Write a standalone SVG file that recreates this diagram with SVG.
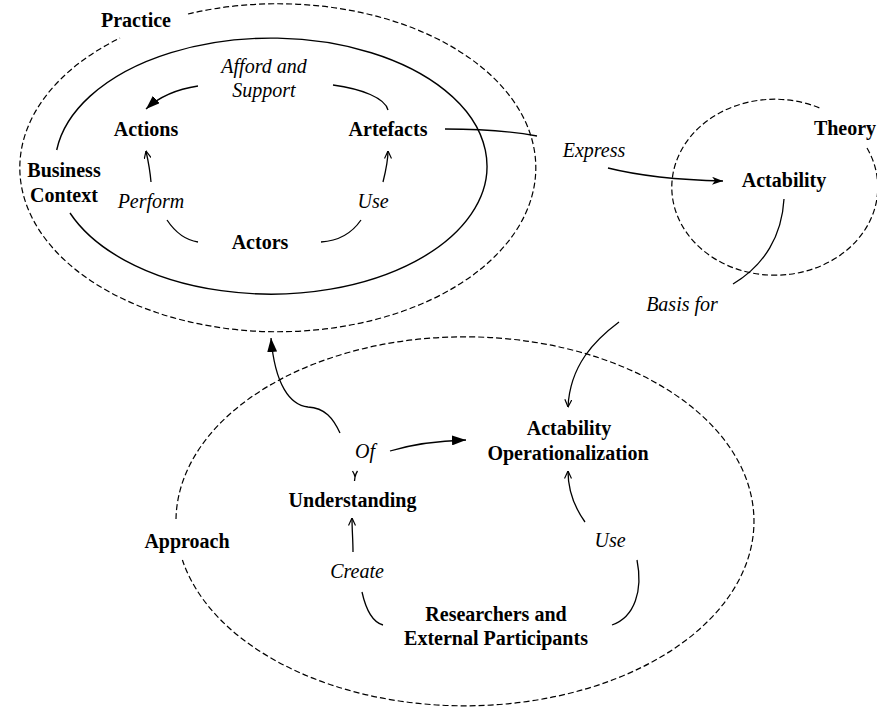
<svg xmlns="http://www.w3.org/2000/svg" width="877" height="707" viewBox="0 0 877 707">
<style>
text{font-family:"Liberation Serif","Times New Roman",serif;font-size:20px;fill:#000;text-anchor:middle}
.b{font-weight:bold}
.i{font-style:italic}
.dash{fill:none;stroke:#000;stroke-width:1.2;stroke-dasharray:6 3}
.solid{fill:none;stroke:#000;stroke-width:1.4}
.c{fill:none;stroke:#000;stroke-width:1.3}
</style>
<defs>
<marker id="tri" viewBox="0 0 14 10" refX="14" refY="5" markerWidth="14" markerHeight="10" markerUnits="userSpaceOnUse" orient="auto">
<path d="M0,0 L14,5 L0,10 z" fill="#000"/>
</marker>
<marker id="vee" viewBox="0 0 8 8" refX="7.5" refY="4" markerWidth="8" markerHeight="8" markerUnits="userSpaceOnUse" orient="auto">
<path d="M0,0.5 L7.5,4 L0,7.5" fill="none" stroke="#000" stroke-width="1.2"/>
</marker>
<marker id="conc" viewBox="0 0 11 8" refX="11" refY="4" markerWidth="11" markerHeight="8" markerUnits="userSpaceOnUse" orient="auto">
<path d="M0,0 L11,4 L0,8 L3,4 z" fill="#000"/>
</marker>
</defs>

<g id="practice">
<path class="dash" d="M188,14 A258,164 0 1 1 120,38"/>
<text class="b" x="136" y="27">Practice</text>
</g>
<g id="business-context">
<path class="solid" d="M56.7,150 A216,128 0 1 1 70,213"/>
<text class="b" x="64" y="177">Business</text>
<text class="b" x="64" y="202">Context</text>
</g>
<g id="actions"><text class="b" x="146" y="136">Actions</text></g>
<g id="artefacts"><text class="b" x="388" y="136">Artefacts</text></g>
<g id="actors"><text class="b" x="260" y="249">Actors</text></g>

<g id="theory">
<path class="dash" d="M867,148 A103,88 0 1 1 822,109"/>
<text class="b" x="845" y="135">Theory</text>
</g>
<g id="actability"><text class="b" x="784" y="187">Actability</text></g>

<g id="approach">
<path class="dash" d="M176,519 A289,184.5 0 1 1 182.4,560"/>
<text class="b" x="187" y="548">Approach</text>
</g>
<g id="actability-operationalization">
<text class="b" x="569" y="435">Actability</text>
<text class="b" x="568" y="460">Operationalization</text>
</g>
<g id="understanding"><text class="b" x="352.5" y="507">Understanding</text></g>
<g id="researchers">
<text class="b" x="496" y="621">Researchers and</text>
<text class="b" x="496" y="645">External Participants</text>
</g>

<g id="connectors">
<path class="c" d="M388,110 C385,98 362,89 333,85"/>
<path class="c" d="M198,86 C178,89 160,96 146,109" marker-end="url(#tri)"/>
<text class="i" x="264" y="73">Afford and</text>
<text class="i" x="264" y="97">Support</text>

<path class="c" d="M151,182 C150,170 148,160 146,151" marker-end="url(#vee)"/>
<path class="c" d="M167,220 C175,232 185,240 198,242"/>
<text class="i" x="151" y="208">Perform</text>

<path class="c" d="M383,182 C386,170 388,162 388,151" marker-end="url(#vee)"/>
<path class="c" d="M361,220 C352,233 338,241 321,242"/>
<text class="i" x="373" y="208">Use</text>

<path class="c" d="M445,129 C480,129 510,131 537,136"/>
<path class="c" d="M608,168 C640,176 680,180 723,181" marker-end="url(#conc)"/>
<text class="i" x="594" y="157">Express</text>

<path class="c" d="M784,199 C782,235 765,265 733,284"/>
<path class="c" d="M619,322 C595,340 570,365 568,407" marker-end="url(#vee)"/>
<text class="i" x="682" y="311">Basis for</text>

<path class="c" d="M340,433 C333,418 325,408 308,407 C290,405 275,385 271,338" marker-end="url(#tri)"/>
<path class="c" d="M390,451 C410,445 430,441 466,440" marker-end="url(#tri)"/>
<path class="c" d="M352.5,471 Q354.5,474 355,477 Q356,473 357.5,471 M355,477 L354.5,481"/>
<text class="i" x="365" y="458">Of</text>

<path class="c" d="M353,552 C353,540 352,530 352,518" marker-end="url(#vee)"/>
<path class="c" d="M362,592 C366,610 372,622 383,625"/>
<text class="i" x="357" y="578">Create</text>

<path class="c" d="M585,522 C575,508 568,492 568,471" marker-end="url(#vee)"/>
<path class="c" d="M637,560 C643,590 635,617 612,625"/>
<text class="i" x="610" y="547">Use</text>
</g>
</svg>
